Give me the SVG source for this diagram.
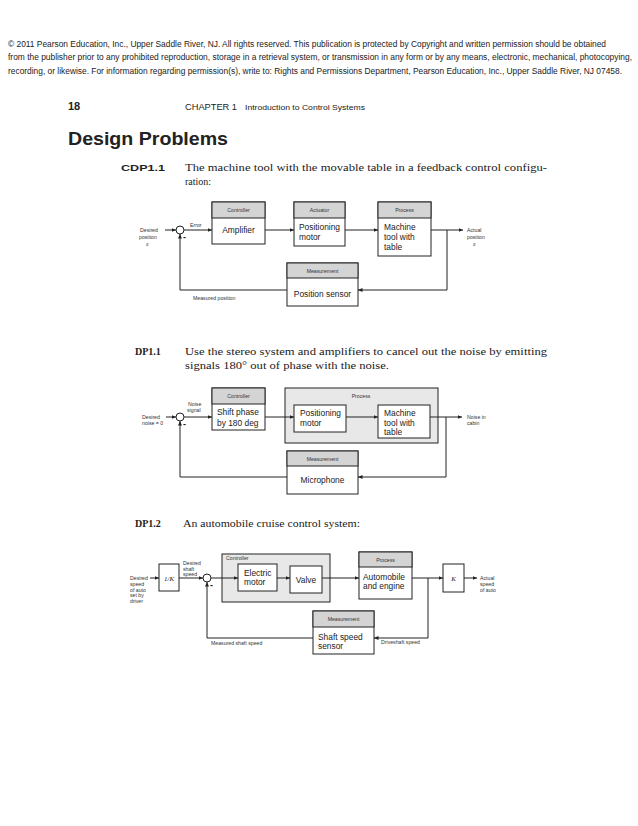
<svg xmlns="http://www.w3.org/2000/svg" width="638" height="826" viewBox="0 0 638 826">
<style>
.cp{font-family:"Liberation Sans",Arial,sans-serif;font-size:8.4px;fill:#222}
.hd{font-family:"Liberation Sans",Arial,sans-serif;fill:#222}
.sf{font-family:"Liberation Serif","DejaVu Serif",serif;font-size:10px;fill:#222}
.box{fill:#fff;stroke:#222;stroke-width:1}
.hdr{fill:#d4d4d4;stroke:#222;stroke-width:1}
.grp{fill:#e8e8e8;stroke:#222;stroke-width:1}
.sm{font-family:"Liberation Sans",Arial,sans-serif;font-size:5.2px;fill:#333}
.lb{font-family:"Liberation Sans",Arial,sans-serif;font-size:8.4px;fill:#222}
.ln{fill:none;stroke:#222;stroke-width:1}
.sj{fill:#fff;stroke:#222;stroke-width:1}
.it{font-family:"Liberation Serif",serif;font-style:italic;fill:#222}
</style>
<defs>
<marker id="ah" markerUnits="userSpaceOnUse" markerWidth="5" markerHeight="4" refX="4.5" refY="2" orient="auto">
<path d="M0,0 L4.5,2 L0,4 Z" fill="#222"/>
</marker>
</defs>
<rect width="638" height="826" fill="#fff"/>

<g id="copyright">
<text class="cp" x="8" y="47" textLength="598" lengthAdjust="spacingAndGlyphs">© 2011 Pearson Education, Inc., Upper Saddle River, NJ. All rights reserved. This publication is protected by Copyright and written permission should be obtained</text>
<text class="cp" x="8" y="60" textLength="624" lengthAdjust="spacingAndGlyphs">from the publisher prior to any prohibited reproduction, storage in a retrieval system, or transmission in any form or by any means, electronic, mechanical, photocopying,</text>
<text class="cp" x="8" y="74" textLength="614" lengthAdjust="spacingAndGlyphs">recording, or likewise. For information regarding permission(s), write to: Rights and Permissions Department, Pearson Education, Inc., Upper Saddle River, NJ 07458.</text>
</g>

<g id="header">
<text class="hd" x="68" y="110" font-size="11" font-weight="bold">18</text>
<text class="hd" x="185" y="110" font-size="8.3" textLength="52" lengthAdjust="spacingAndGlyphs">CHAPTER 1</text>
<text class="hd" x="245" y="110" font-size="8" textLength="120" lengthAdjust="spacingAndGlyphs">Introduction to Control Systems</text>
<text class="hd" x="68" y="145" font-size="19" font-weight="bold" textLength="160" lengthAdjust="spacingAndGlyphs">Design  Problems</text>
</g>

<g id="problem-cdp11">
<text class="hd" x="121" y="171" font-size="9.5" font-weight="bold" textLength="44" lengthAdjust="spacingAndGlyphs">CDP1.1</text>
<text class="sf" x="185" y="171" textLength="362" lengthAdjust="spacingAndGlyphs">The machine tool with the movable table in a feedback control configu-</text>
<text class="sf" x="185" y="185">ration:</text>
</g>

<!-- Diagram 1 -->
<g id="d1-controller">
<rect class="box" x="212" y="202" width="53" height="42"/>
<rect class="hdr" x="212" y="202" width="53" height="16"/>
<text class="sm" x="238.5" y="212" text-anchor="middle">Controller</text>
<text class="lb" x="238.5" y="233" text-anchor="middle">Amplifier</text>
</g>
<g id="d1-actuator">
<rect class="box" x="294" y="202" width="51" height="44"/>
<rect class="hdr" x="294" y="202" width="51" height="16"/>
<text class="sm" x="319.5" y="212" text-anchor="middle">Actuator</text>
<text class="lb" x="299" y="230">Positioning</text>
<text class="lb" x="299" y="240">motor</text>
</g>
<g id="d1-process">
<rect class="box" x="378" y="202" width="53" height="54"/>
<rect class="hdr" x="378" y="202" width="53" height="16"/>
<text class="sm" x="404.5" y="212" text-anchor="middle">Process</text>
<text class="lb" x="384" y="230">Machine</text>
<text class="lb" x="384" y="240">tool with</text>
<text class="lb" x="384" y="250">table</text>
</g>
<g id="d1-measurement">
<rect class="box" x="287" y="263" width="71" height="43"/>
<rect class="hdr" x="287" y="263" width="71" height="15"/>
<text class="sm" x="322.5" y="272.5" text-anchor="middle">Measurement</text>
<text class="lb" x="322.5" y="297" text-anchor="middle">Position sensor</text>
</g>
<g id="d1-sum">
<circle class="sj" cx="180" cy="230" r="4"/>
<text class="hd" x="183" y="240" font-size="9" font-weight="bold">-</text>
</g>
<g id="d1-connectors">
<line class="ln" x1="165" y1="230" x2="176" y2="230" marker-end="url(#ah)"/>
<line class="ln" x1="184" y1="230" x2="212" y2="230" marker-end="url(#ah)"/>
<line class="ln" x1="265" y1="230" x2="294" y2="230" marker-end="url(#ah)"/>
<line class="ln" x1="345" y1="230" x2="378" y2="230" marker-end="url(#ah)"/>
<line class="ln" x1="431" y1="230" x2="463" y2="230" marker-end="url(#ah)"/>
<polyline class="ln" points="447,230 447,290 358,290" marker-end="url(#ah)"/>
<polyline class="ln" points="287,290 180,290 180,234" marker-end="url(#ah)"/>
</g>
<g id="d1-labels">
<text class="sm" x="140" y="232">Desired</text>
<text class="sm" x="139" y="239">position</text>
<text class="it" x="146" y="246" font-size="5.5">x</text>
<text class="sm" x="190" y="227">Error</text>
<text class="sm" x="193" y="300">Measured position</text>
<text class="sm" x="467" y="232">Actual</text>
<text class="sm" x="467" y="239">position</text>
<text class="it" x="473" y="246" font-size="5.5">x</text>
</g>

<g id="problem-dp11">
<text class="sf" x="135" y="355" font-weight="bold">DP1.1</text>
<text class="sf" x="185" y="355" textLength="362" lengthAdjust="spacingAndGlyphs">Use the stereo system and amplifiers to cancel out the noise by emitting</text>
<text class="sf" x="185" y="369" textLength="204" lengthAdjust="spacingAndGlyphs">signals 180° out of phase with the noise.</text>
</g>

<!-- Diagram 2 -->
<g id="d2-controller">
<rect class="box" x="212" y="388" width="53" height="42"/>
<rect class="hdr" x="212" y="388" width="53" height="16"/>
<text class="sm" x="238.5" y="398" text-anchor="middle">Controller</text>
<text class="lb" x="217" y="415">Shift phase</text>
<text class="lb" x="217" y="426">by 180 deg</text>
</g>
<g id="d2-process">
<rect class="grp" x="285" y="388" width="153" height="55"/>
<text class="sm" x="361" y="398" text-anchor="middle">Process</text>
</g>
<g id="d2-positioning-motor">
<rect class="box" x="294" y="405" width="52" height="27"/>
<text class="lb" x="300" y="416">Positioning</text>
<text class="lb" x="300" y="425.5">motor</text>
</g>
<g id="d2-machine-tool">
<rect class="box" x="378" y="405" width="52" height="33"/>
<text class="lb" x="384" y="416">Machine</text>
<text class="lb" x="384" y="425.5">tool with</text>
<text class="lb" x="384" y="434.5">table</text>
</g>
<g id="d2-measurement">
<rect class="box" x="287" y="451" width="71" height="43"/>
<rect class="hdr" x="287" y="451" width="71" height="15"/>
<text class="sm" x="322.5" y="460.5" text-anchor="middle">Measurement</text>
<text class="lb" x="322.5" y="483" text-anchor="middle">Microphone</text>
</g>
<g id="d2-sum">
<circle class="sj" cx="180" cy="417" r="4"/>
<text class="hd" x="183" y="427" font-size="9" font-weight="bold">-</text>
</g>
<g id="d2-connectors">
<line class="ln" x1="166" y1="417" x2="176" y2="417" marker-end="url(#ah)"/>
<line class="ln" x1="184" y1="417" x2="212" y2="417" marker-end="url(#ah)"/>
<line class="ln" x1="265" y1="417" x2="294" y2="417" marker-end="url(#ah)"/>
<line class="ln" x1="346" y1="417" x2="378" y2="417" marker-end="url(#ah)"/>
<line class="ln" x1="430" y1="417" x2="462" y2="417" marker-end="url(#ah)"/>
<polyline class="ln" points="446,417 446,477 358,477" marker-end="url(#ah)"/>
<polyline class="ln" points="287,477 180,477 180,421" marker-end="url(#ah)"/>
</g>
<g id="d2-labels">
<text class="sm" x="142" y="419">Desired</text>
<text class="sm" x="142" y="425">noise = 0</text>
<text class="sm" x="188" y="406">Noise</text>
<text class="sm" x="187" y="411.5">signal</text>
<text class="sm" x="467" y="419">Noise in</text>
<text class="sm" x="467" y="424.5">cabin</text>
</g>

<g id="problem-dp12">
<text class="sf" x="135" y="527" font-weight="bold">DP1.2</text>
<text class="sf" x="183" y="527" textLength="177" lengthAdjust="spacingAndGlyphs">An automobile cruise control system:</text>
</g>

<!-- Diagram 3 -->
<g id="d3-inv-k">
<rect class="box" x="159" y="564" width="20" height="27"/>
<text class="it" x="169" y="580.5" font-size="7" text-anchor="middle">1/K</text>
</g>
<g id="d3-controller">
<rect class="grp" x="222" y="554" width="108" height="48"/>
<text class="sm" x="226" y="560">Controller</text>
</g>
<g id="d3-electric-motor">
<rect class="box" x="238" y="564" width="39" height="27"/>
<text class="lb" x="244" y="576">Electric</text>
<text class="lb" x="244" y="585">motor</text>
</g>
<g id="d3-valve">
<rect class="box" x="290" y="566" width="32" height="27"/>
<text class="lb" x="306" y="582.5" text-anchor="middle">Valve</text>
</g>
<g id="d3-process">
<rect class="box" x="359" y="552" width="53" height="47"/>
<rect class="hdr" x="359" y="552" width="53" height="15"/>
<text class="sm" x="385.5" y="561.5" text-anchor="middle">Process</text>
<text class="lb" x="363" y="580">Automobile</text>
<text class="lb" x="363" y="589">and engine</text>
</g>
<g id="d3-k">
<rect class="box" x="443" y="564" width="21" height="28"/>
<text class="it" x="453.5" y="580.5" font-size="7" text-anchor="middle">K</text>
</g>
<g id="d3-measurement">
<rect class="box" x="313" y="611" width="61" height="43"/>
<rect class="hdr" x="313" y="611" width="61" height="16"/>
<text class="sm" x="343.5" y="621" text-anchor="middle">Measurement</text>
<text class="lb" x="318" y="640">Shaft speed</text>
<text class="lb" x="318" y="649">sensor</text>
</g>
<g id="d3-sum">
<circle class="sj" cx="207" cy="578" r="4"/>
<text class="hd" x="210" y="588" font-size="9" font-weight="bold">-</text>
</g>
<g id="d3-connectors">
<line class="ln" x1="150" y1="578" x2="159" y2="578" marker-end="url(#ah)"/>
<line class="ln" x1="179" y1="578" x2="203" y2="578" marker-end="url(#ah)"/>
<line class="ln" x1="211" y1="578" x2="238" y2="578" marker-end="url(#ah)"/>
<line class="ln" x1="277" y1="578" x2="290" y2="578" marker-end="url(#ah)"/>
<line class="ln" x1="322" y1="578" x2="359" y2="578" marker-end="url(#ah)"/>
<line class="ln" x1="412" y1="578" x2="443" y2="578" marker-end="url(#ah)"/>
<line class="ln" x1="464" y1="578" x2="477" y2="578" marker-end="url(#ah)"/>
<polyline class="ln" points="428,578 428,638 374,638" marker-end="url(#ah)"/>
<polyline class="ln" points="313,638 207,638 207,582" marker-end="url(#ah)"/>
</g>
<g id="d3-labels">
<text class="sm" x="130" y="580">Desired</text>
<text class="sm" x="130" y="586">speed</text>
<text class="sm" x="130" y="591.5">of auto</text>
<text class="sm" x="130" y="597">set by</text>
<text class="sm" x="130" y="602.5">driver</text>
<text class="sm" x="183" y="565">Desired</text>
<text class="sm" x="183" y="570.5">shaft</text>
<text class="sm" x="183" y="576">speed</text>
<text class="sm" x="480" y="580">Actual</text>
<text class="sm" x="480" y="585.5">speed</text>
<text class="sm" x="480" y="592">of auto</text>
<text class="sm" x="211" y="645">Measured shaft speed</text>
<text class="sm" x="381" y="644">Driveshaft speed</text>
</g>
</svg>
